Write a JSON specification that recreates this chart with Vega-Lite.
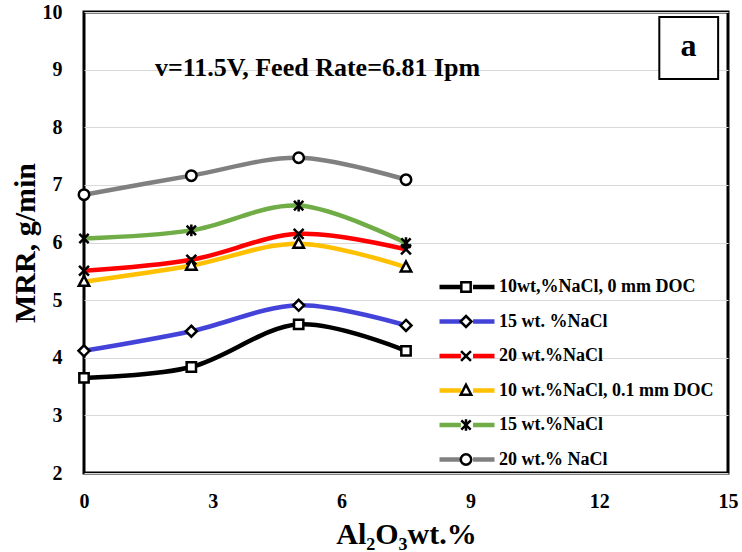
{
  "$schema": "https://vega.github.io/schema/vega-lite/v6.json",
  "width": 644,
  "height": 461,
  "autosize": {"type": "none"},
  "padding": {"left": 84, "top": 12, "right": 14, "bottom": 79},
  "background": "white",
  "config": {"view": {"stroke": "black", "strokeWidth": 3}, "font": "Liberation Serif",
    "text": {"font": "Liberation Serif"}, "mark": {"font": "Liberation Serif"}},
  "layer": [
    {
      "data": {"name": "pts", "values": [
        {"series": "10wt,%NaCl, 0 mm DOC", "x": 0, "y": 3.65},
        {"series": "10wt,%NaCl, 0 mm DOC", "x": 2.5, "y": 3.84},
        {"series": "10wt,%NaCl, 0 mm DOC", "x": 5, "y": 4.58},
        {"series": "10wt,%NaCl, 0 mm DOC", "x": 7.5, "y": 4.12},
        {"series": "15 wt. %NaCl", "x": 0, "y": 4.12},
        {"series": "15 wt. %NaCl", "x": 2.5, "y": 4.46},
        {"series": "15 wt. %NaCl", "x": 5, "y": 4.91},
        {"series": "15 wt. %NaCl", "x": 7.5, "y": 4.56},
        {"series": "20 wt.%NaCl", "x": 0, "y": 5.51},
        {"series": "20 wt.%NaCl", "x": 2.5, "y": 5.70},
        {"series": "20 wt.%NaCl", "x": 5, "y": 6.15},
        {"series": "20 wt.%NaCl", "x": 7.5, "y": 5.88},
        {"series": "10 wt.%NaCl, 0.1 mm DOC", "x": 0, "y": 5.32},
        {"series": "10 wt.%NaCl, 0.1 mm DOC", "x": 2.5, "y": 5.60},
        {"series": "10 wt.%NaCl, 0.1 mm DOC", "x": 5, "y": 5.98},
        {"series": "10 wt.%NaCl, 0.1 mm DOC", "x": 7.5, "y": 5.57},
        {"series": "15 wt.%NaCl", "x": 0, "y": 6.07},
        {"series": "15 wt.%NaCl", "x": 2.5, "y": 6.21},
        {"series": "15 wt.%NaCl", "x": 5, "y": 6.64},
        {"series": "15 wt.%NaCl", "x": 7.5, "y": 5.99},
        {"series": "20 wt.% NaCl", "x": 0, "y": 6.83},
        {"series": "20 wt.% NaCl", "x": 2.5, "y": 7.16},
        {"series": "20 wt.% NaCl", "x": 5, "y": 7.47},
        {"series": "20 wt.% NaCl", "x": 7.5, "y": 7.09}
      ]},
      "mark": {"type": "line", "interpolate": "cardinal", "strokeWidth": 4.5},
      "encoding": {
        "x": {"field": "x", "type": "quantitative",
          "scale": {"domain": [0, 15], "nice": false, "zero": false},
          "axis": {"values": [0, 3, 6, 9, 12, 15], "format": "d", "grid": false, "ticks": false, "domain": false,
            "labelFont": "Liberation Serif", "labelFontSize": 20, "labelFontWeight": "bold", "labelColor": "black",
            "labelPadding": 18, "labelFlush": false,
            "title": "Al₂O₃wt.%", "titleFont": "Liberation Serif", "titleFontSize": 30, "titleFontWeight": "bold",
            "titleColor": "black", "titlePadding": 8}},
        "y": {"field": "y", "type": "quantitative",
          "scale": {"domain": [2, 10], "nice": false, "zero": false},
          "axis": {"values": [2, 3, 4, 5, 6, 7, 8, 9, 10], "format": "d", "grid": true, "gridColor": "#D9D9D9", "gridWidth": 1.2,
            "ticks": false, "domain": false,
            "labelFont": "Liberation Serif", "labelFontSize": 20, "labelFontWeight": "bold", "labelColor": "black",
            "labelPadding": 22,
            "title": "MRR, g/min", "titleFont": "Liberation Serif", "titleFontSize": 30, "titleFontWeight": "bold",
            "titleColor": "black", "titlePadding": 2}},
        "color": {"field": "series", "type": "nominal",
          "scale": {
            "domain": ["10wt,%NaCl, 0 mm DOC", "15 wt. %NaCl", "20 wt.%NaCl", "10 wt.%NaCl, 0.1 mm DOC", "15 wt.%NaCl", "20 wt.% NaCl"],
            "range": ["#000000", "#4343D9", "#FF0000", "#FFC000", "#70AD47", "#808080"]},
          "legend": {"orient": "none", "legendX": 353, "legendY": 266, "title": null, "padding": 0,
            "symbolType": "M-1,0H-0.22M0.22,0H1", "symbolSize": 3025, "symbolStrokeWidth": 4.5,
            "clipHeight": 18,
            "labelFont": "Liberation Serif", "labelFontSize": 18, "labelFontWeight": "bold", "labelColor": "black",
            "labelOffset": 2, "rowPadding": 16.5, "labelLimit": 400}}
      }
    },
    {
      "data": {"name": "pts"},
      "mark": {"type": "point", "filled": false, "color": "black", "fill": "white", "strokeWidth": 2.5, "size": 3025, "opacity": 1},
      "encoding": {
        "x": {"field": "x", "type": "quantitative"},
        "y": {"field": "y", "type": "quantitative"},
        "shape": {"field": "series", "type": "nominal",
          "scale": {
            "domain": ["20 wt.% NaCl", "15 wt.%NaCl", "10 wt.%NaCl, 0.1 mm DOC", "20 wt.%NaCl", "15 wt. %NaCl", "10wt,%NaCl, 0 mm DOC"],
            "range": [
            "M0.19,0A0.19,0.19 0 1,1 -0.19,0A0.19,0.19 0 1,1 0.19,0Z",
            "M-0.17,-0.17L0.17,0.17M0.17,-0.17L-0.17,0.17M0,-0.21V0.21",
            "M0,-0.21L0.19,0.15L-0.19,0.15Z",
            "M-0.18,-0.18L0.18,0.18M0.18,-0.18L-0.18,0.18",
            "M0,-0.2L0.2,0L0,0.2L-0.2,0Z",
            "M-0.17,-0.17H0.17V0.17H-0.17Z"
          ]},
          "legend": {"orient": "none", "legendX": 353, "legendY": 266, "title": null, "padding": 0,
            "values": ["10wt,%NaCl, 0 mm DOC", "15 wt. %NaCl", "20 wt.%NaCl", "10 wt.%NaCl, 0.1 mm DOC", "15 wt.%NaCl", "20 wt.% NaCl"],
            "symbolSize": 3025, "symbolStrokeWidth": 2.5, "symbolOpacity": 1, "clipHeight": 18,
            "labelFont": "Liberation Serif", "labelFontSize": 18, "labelFontWeight": "bold", "labelColor": "black",
            "labelOpacity": 0, "labelOffset": 2, "rowPadding": 16.5, "labelLimit": 400}}
      }
    },
    {
      "data": {"values": [{"note": "v=11.5V, Feed Rate=6.81 Ipm"}]},
      "mark": {"type": "text", "font": "Liberation Serif", "fontSize": 26, "fontWeight": "bold", "color": "black",
        "align": "center", "baseline": "middle"},
      "encoding": {"x": {"datum": 5.44, "type": "quantitative"}, "y": {"datum": 9.03, "type": "quantitative"},
        "text": {"field": "note"}}
    },
    {
      "data": {"values": [{"note": "a"}]},
      "mark": {"type": "rect", "fill": "white", "stroke": "black", "strokeWidth": 2},
      "encoding": {"x": {"datum": 13.4, "type": "quantitative"}, "x2": {"datum": 14.77},
        "y": {"datum": 9.913, "type": "quantitative"}, "y2": {"datum": 8.837}}
    },
    {
      "data": {"values": [{"note": "a"}]},
      "mark": {"type": "text", "font": "Liberation Serif", "fontSize": 32, "fontWeight": "bold", "color": "black",
        "align": "center", "baseline": "middle"},
      "encoding": {"x": {"datum": 14.08, "type": "quantitative"}, "y": {"datum": 9.41, "type": "quantitative"},
        "text": {"field": "note"}}
    }
  ]
}
